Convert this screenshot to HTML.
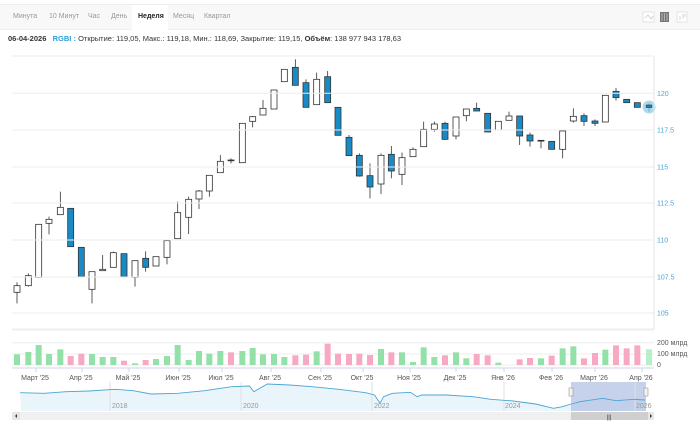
<!DOCTYPE html>
<html><head><meta charset="utf-8"><style>
body{margin:0;width:700px;height:425px;background:#fff;font-family:"Liberation Sans",sans-serif;overflow:hidden;position:relative}
.tabs{position:absolute;left:0;top:4px;width:700px;height:24px;background:#f8f8f8;border-top:1px solid #eee;border-bottom:1px solid #eee}
.tab{position:absolute;top:8px;font-size:7px;color:#999}
.sel{position:absolute;left:132px;top:0;width:36px;height:25px;background:#fff}
.info{position:absolute;left:8px;top:34px;font-size:7.5px;color:#333;white-space:nowrap}
</style></head><body>
<div class="tabs"><div class="sel"></div>
<span class="tab" style="left:13px">Минута</span><span class="tab" style="left:49px">10 Минут</span><span class="tab" style="left:88px">Час</span><span class="tab" style="left:111px">День</span><span class="tab" style="left:138px;color:#222;font-weight:bold">Неделя</span><span class="tab" style="left:173px">Месяц</span><span class="tab" style="left:204px">Квартал</span>
</div>
<div class="info"><b>06-04-2026</b>&nbsp;&nbsp;&nbsp;<b style="color:#2a9fd6">RGBI :</b> Открытие: 119,05, Макс.: 119,18, Мин.: 118,69, Закрытие: 119,15, <b>Объём</b>: 138 977 943 178,63</div>
<svg id="s" width="700" height="425" style="position:absolute;left:0;top:0" xmlns="http://www.w3.org/2000/svg">
<rect x="643" y="12" width="11" height="10" fill="#fff" stroke="#ddd" stroke-width="0.8"/><path d="M645 18 L648 15 L651 19 L653 16" fill="none" stroke="#ccc" stroke-width="0.8"/>
<rect x="660" y="12" width="9" height="10" fill="#777"/><path d="M662 13v8M664.5 13v8M667 13v8" stroke="#ccc" stroke-width="0.7"/>
<rect x="677" y="12" width="10" height="10" fill="#fff" stroke="#ddd" stroke-width="0.8"/><path d="M680 20v-4M683 19v-5M685 17v-3" stroke="#ccc" stroke-width="0.8"/>
<g id="grid"></g><g id="c"></g><g id="v"></g><g id="nav"></g>
</svg>
<script>
var S=document.getElementById('s'),ns='http://www.w3.org/2000/svg';
function el(t,a,txt,p){var e=document.createElementNS(ns,t);for(var k in a)e.setAttribute(k,a[k]);if(txt!=null)e.textContent=txt;(p||S).appendChild(e);return e}
[56,93.3,130,167,203,240,277,313,329].forEach(function(y){el('line',{x1:12,x2:654,y1:y,y2:y,stroke:'#eeeeee','stroke-width':1})});
el('line',{x1:654,x2:654,y1:56,y2:329,stroke:'#e6e6e6'});
[['120',93.3],['117.5',130],['115',167],['112.5',203],['110',240],['107.5',277],['105',313]].forEach(function(l){el('text',{x:657,y:l[1]+2.5,'font-size':7,fill:'#4ba6d3'},l[0])});
var A=[[51,707,727,697,760,0],[85,677,707,670,710,0],[116,523,682,523,682,0],[147,508,520,500,553,0],[181,472,494,425,494,0],[212,475,590,475,590,1],[244,592,680,592,680,1],[276,665,718,665,760,0],[308,658,662,615,662,0],[340,608,652,605,652,0],[372,611,680,611,680,1],[405,632,682,632,710,0],[437,625,652,604,665,1],[468,620,648,620,648,0],[501,572,622,572,643,0],[533,488,566,455,566,0],[566,448,502,440,552,0],[597,423,447,420,477,0],[628,376,423,376,440,0],[661,334,368,315,368,0],[693,330,332,325,340,0],[727,220,338,220,338,0],[758,200,214,198,232,0],[789,175,195,150,195,0],[822,120,177,120,177,0],[853,58,95,58,95,0],[886,52,106,28,106,1],[918,98,172,88,172,1],[950,88,164,68,164,0],[983,80,158,63,158,1],[1014,172,256,172,256,1]];
var B=[[57,262,317,255,317,1],[88,316,378,310,380,1],[120,377,411,340,445,1],[153,316,402,310,432,0],[184,313,363,288,385,1],[216,323,373,308,405,0],[249,298,320,292,320,0],[281,238,290,215,290,0],[313,222,238,215,245,0],[345,220,268,215,270,1],[378,201,258,201,268,0],[409,177,197,177,214,0],[440,175,183,158,183,1],[473,190,246,190,246,1],[505,214,240,214,240,0],[537,198,211,185,211,0],[569,198,258,198,285,1],[600,255,273,248,290,1],[633,271,273,271,295,0],[665,274,298,274,298,1],[698,243,298,243,325,0],[730,199,213,175,218,0],[762,197,214,190,228,1],[795,213,220,208,228,1],[826,136,216,136,216,0],[858,124,143,114,152,1],[890,148,158,148,158,1],[922,158,172,158,172,1],[957,166,172,160,185,1]];
var C=document.getElementById('c'),xs=[];
function draw(arr,ox){arr.forEach(function(d){var x=ox+d[0]/3;xs.push(x);var bt=50+d[1]/3,bb=50+d[2]/3;
el('line',{x1:x,x2:x,y1:50+d[3]/3,y2:50+d[4]/3,stroke:'#333','stroke-width':0.8},null,C);
el('rect',{x:x-3,y:bt,width:6,height:Math.max(bb-bt,0.8),fill:d[5]?'#1a8ac4':'#fff',stroke:'#333','stroke-width':0.8},null,C)})}
draw(A,0);draw(B,330);
el('circle',{cx:649,cy:107,r:6.5,fill:'#8ccbe6','fill-opacity':0.7},null,C);
el('rect',{x:646.5,y:105,width:5,height:2.5,fill:'#1a8ac4',stroke:'#333','stroke-width':0.6},null,C);
[342.7,354,365].forEach(function(y){el('line',{x1:12,x2:654,y1:y,y2:y,stroke:'#eee'})});
el('line',{x1:12,x2:654,y1:330,y2:330,stroke:'#eee'});
el('text',{x:657,y:345,'font-size':7,fill:'#555'},'200 млрд');el('text',{x:657,y:356,'font-size':7,fill:'#555'},'100 млрд');el('text',{x:657,y:367,'font-size':7,fill:'#555'},'0');
var V=[[73,'g'],[66,'g'],[45,'g'],[72,'g'],[58,'g'],[78,'p'],[71,'p'],[72,'g'],[81,'g'],[81,'g'],[92,'p'],[100,'g'],[90,'p'],[87,'g'],[78,'g'],[45,'g'],[90,'g'],[63,'g'],[71,'g'],[63,'g'],[67,'p'],[63,'g'],[54,'g'],[73,'g'],[72,'g'],[81,'g'],[76,'p'],[74,'p'],[64,'g'],[41,'p'],[71,'p'],[72,'p'],[71,'p'],[75,'p'],[57,'g'],[67,'p'],[67,'g'],[96,'g'],[52,'g'],[81,'g'],[76,'p'],[67,'g'],[85,'g'],[72,'p'],[76,'p'],[98,'g'],[105,'g'],[88,'p'],[84,'p'],[85,'g'],[77,'p'],[55,'g'],[49,'g'],[85,'p'],[69,'p'],[59,'g'],[46,'p'],[55,'p'],[46,'p'],[58,'l']];
V.forEach(function(v,i){var top=330+v[0]/3;if(v[0]>=105)return;el('rect',{x:xs[i]-3,y:top,width:6,height:365-top,fill:v[1]=='g'?'#93e0a8':v[1]=='p'?'#f7a8c2':'#b5f0c8'})});
el('line',{x1:12,x2:654,y1:368,y2:368,stroke:'#ccd6eb'});
[['Март \'25',35],['Апр \'25',81],['Май \'25',128],['Июн \'25',178],['Июл \'25',221],['Авг \'25',270],['Сен \'25',320],['Окт \'25',362],['Ноя \'25',409],['Дек \'25',455],['Янв \'26',503],['Фев \'26',551],['Март \'26',594],['Апр \'26',641]].forEach(function(m){
el('line',{x1:m[1]+1,x2:m[1]+1,y1:368,y2:372,stroke:'#ccd6eb'});el('text',{x:m[1],y:380,'font-size':7,fill:'#555','text-anchor':'middle'},m[0])});
var N=[[47,188],[100,190],[150,185],[200,183],[260,178],[300,182],[340,192],[400,190],[460,182],[520,170],[560,168],[570,185],[600,162],[650,165],[700,170],[760,178],[820,188],[840,195],[852,220],[860,200],[880,190],[920,187],[935,200],[945,195],[1000,195],[1060,200],[1100,208],[1150,213],[1200,222],[1240,235],[1260,230],[1280,222],[1300,215],[1350,205],[1380,212],[1420,208],[1445,210]];
var pts=N.map(function(p){return [(17+(p[0]-40)*0.447).toFixed(1),(330+p[1]/3).toFixed(1)]});
el('rect',{x:21,y:382,width:625,height:29,fill:'#fff'});
el('path',{d:'M'+pts.map(function(p){return p.join(' ')}).join(' L')+' L646 411 L21 411 Z',fill:'#eaf4fb'});
el('rect',{x:571,y:382,width:75,height:29,fill:'#b8c6e6','fill-opacity':0.8});
[110,241,372,504,635].forEach(function(x){el('line',{x1:x,x2:x,y1:382,y2:411,stroke:'#e0e0e0'})});
el('path',{d:'M'+pts.map(function(p){return p.join(' ')}).join(' L'),fill:'none',stroke:'#4ba6d3','stroke-width':0.9});
[['2018',112],['2020',243],['2022',374],['2024',505],['2026',636]].forEach(function(t){el('text',{x:t[1],y:408,'font-size':7,fill:'#999'},t[0])});
el('rect',{x:569,y:388,width:4,height:8,fill:'#f2f2f2',stroke:'#999','stroke-width':0.6});
el('rect',{x:644,y:388,width:4,height:8,fill:'#f2f2f2',stroke:'#999','stroke-width':0.6});
el('rect',{x:12,y:412,width:642,height:8,fill:'#f0f0f0'});
el('rect',{x:571,y:412,width:77,height:8,fill:'#cfcfcf'});
el('text',{x:609,y:419,'font-size':6,fill:'#333','text-anchor':'middle'},'|||');
el('rect',{x:12,y:412,width:8,height:8,fill:'#e6e6e6'});el('rect',{x:648,y:412,width:6,height:8,fill:'#e6e6e6'});
el('path',{d:'M17 414 L15 416 L17 418Z',fill:'#333'});el('path',{d:'M650 414 L652 416 L650 418Z',fill:'#333'});
</script>
</body></html>
